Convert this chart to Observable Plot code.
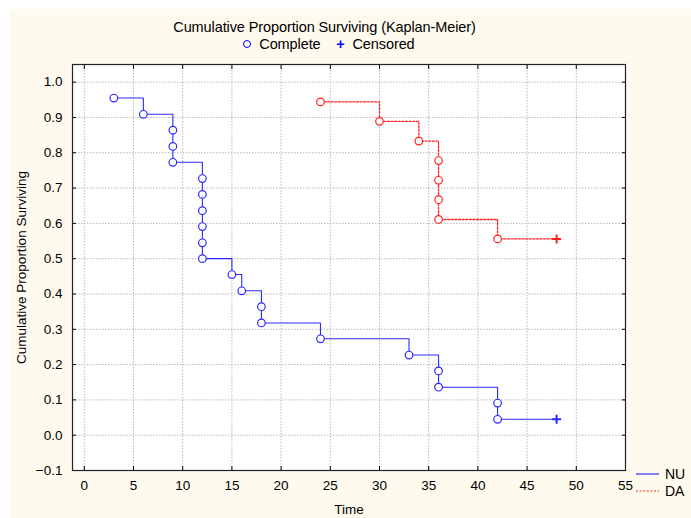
<!DOCTYPE html>
<html>
<head>
<meta charset="utf-8">
<script src="https://cdn.jsdelivr.net/npm/d3@7"></script>
<script src="https://cdn.jsdelivr.net/npm/@observablehq/plot@0.6"></script>
<style>
  html, body { margin: 0; padding: 0; background: #ffffff; }
  #wrap { position: relative; width: 691px; height: 518px; overflow: hidden; font-family: "Liberation Sans", Arial, sans-serif; }
  #panel { position: absolute; left: 9px; top: 9px; right: 0; bottom: 0; background: #fffaee; border-top-left-radius: 4px; }
  #chart { position: absolute; left: 0; top: 0; }
  #title { position: absolute; left: 0; width: 649px; top: 19px; text-align: center; font-size: 14.5px; color: #000; letter-spacing: -0.1px; }
  #keys { position: absolute; left: 0; width: 658px; top: 36px; text-align: center; font-size: 14.5px; color: #000; letter-spacing: -0.1px; }
  .sym { color: #0000ff; }
  .circ { display: inline-block; width: 6px; height: 6px; border: 1.2px solid #0000ff; border-radius: 50%; vertical-align: 1px; }
  #legend { position: absolute; left: 636px; top: 465px; font-size: 14px; color: #000; }
  .row { display: flex; align-items: center; height: 17px; }
  .row svg { margin-right: 6px; }
</style>
</head>
<body>
<div id="wrap">
  <div id="panel"></div>
  <div id="chart"></div>
  <div id="title">Cumulative Proportion Surviving (Kaplan-Meier)</div>
  <div id="keys"><span class="circ"></span>&nbsp; Complete &nbsp;&nbsp; <span class="sym" style="font-weight:bold">+</span>&nbsp; Censored</div>
  <div id="legend"></div>
</div>
<script>
// ---- data ----
const groups = ["NU", "DA"];
const groupColors = ["#2a2aff", "#ff2020"];
const groupDash = ["none", "2,1.6"];
const groupWidths = [1.1, 1.3];

const nuTimes = [3, 6, 9, 9, 9, 12, 12, 12, 12, 12, 12, 15, 16, 18, 18, 24, 33, 36, 36, 42, 42, 48];
const nuSurv = [0.955, 0.909, 0.864, 0.818, 0.773, 0.727, 0.682, 0.636, 0.591, 0.545, 0.500, 0.455, 0.409, 0.364, 0.318, 0.273, 0.227, 0.182, 0.136, 0.091, 0.045, 0.045];
const nuCensored = [0, 0, 0, 0, 0, 0, 0, 0, 0, 0, 0, 0, 0, 0, 0, 0, 0, 0, 0, 0, 0, 1];

const daTimes = [24, 30, 34, 36, 36, 36, 36, 42, 48];
const daSurv = [0.944, 0.889, 0.833, 0.778, 0.722, 0.667, 0.611, 0.556, 0.556];
const daCensored = [0, 0, 0, 0, 0, 0, 0, 0, 1];

const xTicks = [0, 5, 10, 15, 20, 25, 30, 35, 40, 45, 50, 55];
const yTicks = [-0.1, 0, 0.1, 0.2, 0.3, 0.4, 0.5, 0.6, 0.7, 0.8, 0.9, 1.0];

// ---- table ----
const rows = [];
nuTimes.forEach((t, i) => rows.push({group: "NU", time: t, surv: nuSurv[i], censored: nuCensored[i]}));
daTimes.forEach((t, i) => rows.push({group: "DA", time: t, surv: daSurv[i], censored: daCensored[i]}));
const complete = rows.filter(d => !d.censored);
const censored = rows.filter(d => d.censored);

const colorOf = g => groupColors[groups.indexOf(g)];

const plot = Plot.plot({
  width: 691,
  height: 518,
  marginTop: 64,
  marginLeft: 72,
  marginRight: 66,
  marginBottom: 48,
  style: {background: "transparent", fontFamily: "Liberation Sans, Arial, sans-serif", fontSize: "13.5px", color: "#000"},
  x: {domain: [-1.2, 55], ticks: xTicks},
  y: {domain: [-0.1, 1.05], ticks: yTicks},
  marks: [
    Plot.frame({fill: "white", stroke: "none"}),
    Plot.gridX(xTicks, {stroke: "#b8b8b8", strokeOpacity: 1, strokeDasharray: "1.5,1.5"}),
    Plot.gridY(yTicks, {stroke: "#b8b8b8", strokeOpacity: 1, strokeDasharray: "1.5,1.5"}),
    Plot.axisX(xTicks, {anchor: "bottom", tickSize: -4, tickPadding: 14, label: "Time", labelAnchor: "center", labelArrow: "none", labelOffset: 43, fontSize: 13.5}),
    Plot.axisX(xTicks, {anchor: "top", tickSize: -4, tickFormat: () => "", label: null}),
    Plot.axisY(yTicks, {anchor: "left", tickSize: -4, tickPadding: 14, tickFormat: d3.format(".1f"), label: "Cumulative Proportion Surviving", labelAnchor: "center", labelArrow: "none", labelOffset: 56, fontSize: 13.5}),
    Plot.axisY(yTicks, {anchor: "right", tickSize: -4, tickFormat: () => "", label: null}),
    Plot.frame({stroke: "#222", strokeWidth: 1.2}),
    ...groups.map((g, i) => Plot.line(rows.filter(d => d.group === g), {
      x: "time", y: "surv", curve: "step-after",
      stroke: groupColors[i], strokeWidth: groupWidths[i], strokeDasharray: groupDash[i]
    })),
    Plot.dot(complete, {x: "time", y: "surv", r: 3.8, symbol: "circle", fill: "white", stroke: d => colorOf(d.group), strokeWidth: 1.2}),
    Plot.dot(censored, {x: "time", y: "surv", r: 3, symbol: "plus", stroke: d => colorOf(d.group), strokeWidth: 2})
  ]
});
document.getElementById("chart").appendChild(plot);

// bottom-right legend
const leg = document.getElementById("legend");
groups.forEach((g, i) => {
  const row = document.createElement("div");
  row.className = "row";
  row.innerHTML = `<svg width="23" height="4"><line x1="0" x2="23" y1="2" y2="2" stroke="${groupColors[i]}" stroke-width="1.2" ${groupDash[i] === "none" ? "" : `stroke-dasharray="${groupDash[i]}"`}/></svg><span>${g}</span>`;
  leg.appendChild(row);
});
</script>
</body>
</html>
